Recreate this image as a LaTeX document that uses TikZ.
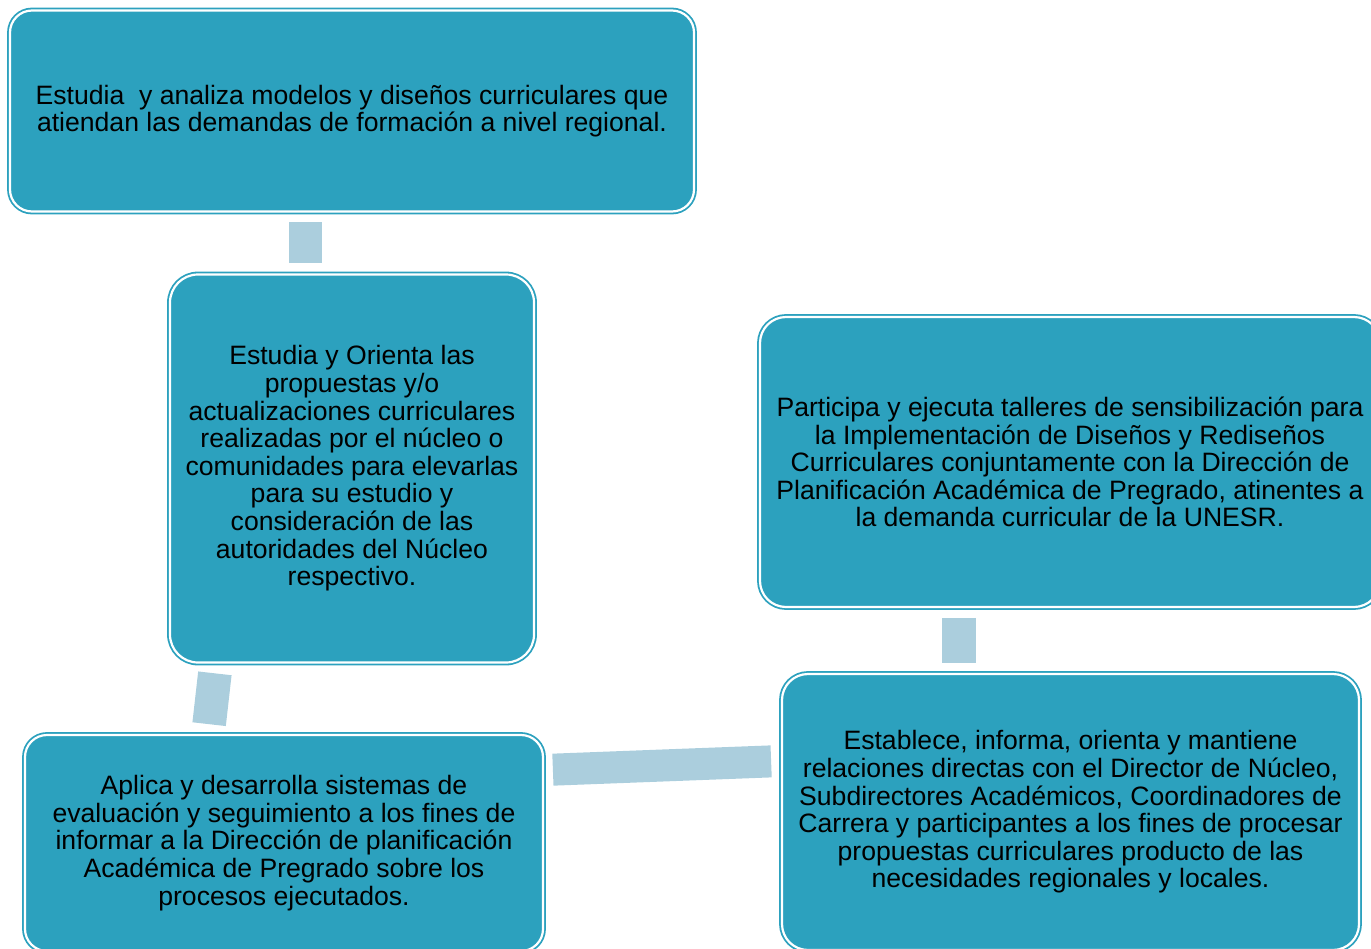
\documentclass[tikz,border=0pt]{standalone}
\usepackage{fontspec}
\setmainfont{Liberation Sans}
\definecolor{boxfill}{RGB}{44,161,190}
\definecolor{linkfill}{RGB}{171,206,221}
\begin{document}
\begin{tikzpicture}[x=0.5pt,y=-0.5pt,
  box/.style={rectangle,rounded corners=11pt,fill=boxfill,draw=boxfill,double=white,
    double distance=1.1pt,line width=0.9pt,align=center,inner sep=0pt,
    font=\fontsize{13.3}{13.8}\selectfont},
  link/.style={draw=linkfill,line width=16.5pt}]
\useasboundingbox (0,0) rectangle (1371,948);
\clip (0,0) rectangle (1371,948);
\node [box,minimum width=342pt,minimum height=100.5pt] (analiza) at (352,111)
{Estudia \ y analiza modelos y diseños curriculares que\\atiendan las demandas de formación a nivel regional.};
\node [box,rounded corners=14pt,minimum width=182pt,minimum height=194pt] (orienta) at (352,468.5)
{Estudia y Orienta las\\propuestas y/o\\actualizaciones curriculares\\realizadas por el núcleo o\\comunidades para elevarlas\\para su estudio y\\consideración de las\\autoridades del Núcleo\\respectivo.};
\node [box,rounded corners=13pt,minimum width=310pt,minimum height=145pt] (talleres) at (1070,462)
{Participa y ejecuta talleres de sensibilización para\\la Implementación de Diseños y Rediseños\\Curriculares conjuntamente con la Dirección de\\Planificación Académica de Pregrado, atinentes a\\la demanda curricular de la UNESR.};
\node [box,rounded corners=13pt,minimum width=288.5pt,minimum height=138pt] (relaciones) at (1070.5,812)
{Establece, informa, orienta y mantiene\\relaciones directas con el Director de Núcleo,\\Subdirectores Académicos, Coordinadores de\\Carrera y participantes a los fines de procesar\\propuestas curriculares producto de las\\necesidades regionales y locales.};
\node [box,minimum width=259pt,minimum height=108pt] (evalua) at (284,843)
{Aplica y desarrolla sistemas de\\evaluación y seguimiento a los fines de\\informar a la Dirección de planificación\\Académica de Pregrado sobre los\\procesos ejecutados.};
\draw [link,shorten <=5pt,shorten >=5.5pt] ([xshift=-23.5pt]analiza.south) -- ([xshift=-23.5pt]orienta.north);
\draw [link,line width=16.8pt,shorten <=5pt,shorten >=5pt] ([xshift=-68pt]orienta.south) -- ([xshift=-38pt]evalua.north);
\draw [link,line width=16pt,shorten <=4.5pt,shorten >=5pt] ([yshift=36.5pt]evalua.east) -- ([yshift=25.5pt]relaciones.west);
\draw [link,line width=17pt,shorten <=5pt,shorten >=5pt] ([xshift=-55.5pt]talleres.south) -- ([xshift=-55.75pt]relaciones.north);
\end{tikzpicture}
\end{document}
